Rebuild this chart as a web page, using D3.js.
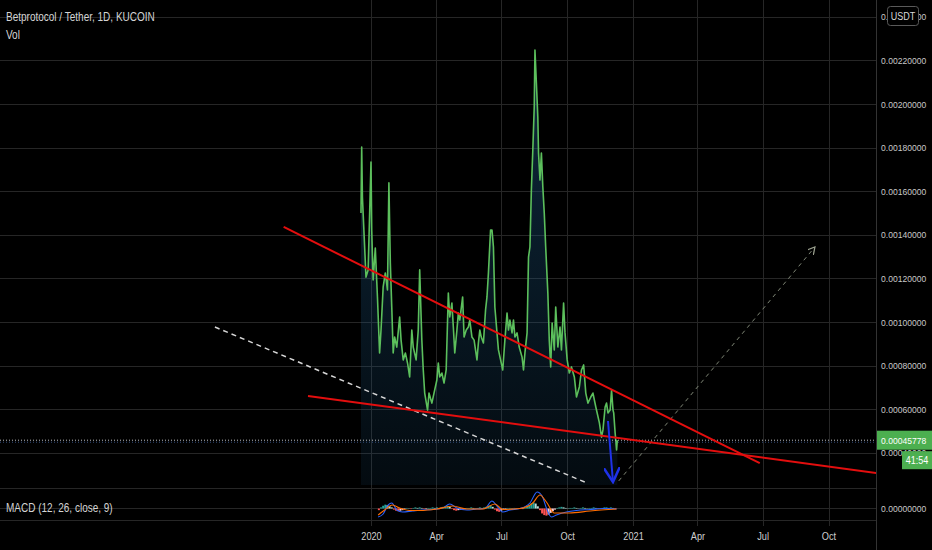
<!DOCTYPE html>
<html><head><meta charset="utf-8">
<script src="https://cdn.jsdelivr.net/npm/d3@7/dist/d3.min.js"></script>
<style>html,body{margin:0;padding:0;background:#000;overflow:hidden}svg{display:block}</style>
</head><body><svg id="c" width="932" height="550"></svg>
<script>
// ---------- DATA ----------
const title = "Betprotocol / Tether, 1D, KUCOIN";
const volLabel = "Vol";
const macdLabel = "MACD (12, 26, close, 9)";
const currency = "USDT";
const lastPrice = 0.00045778;
const countdown = "41:54";

const dates = ["2019-12-18","2019-12-19","2019-12-20","2019-12-25","2019-12-28","2020-01-01","2020-01-02","2020-01-04","2020-01-07","2020-01-10",
"2020-01-13","2020-01-15","2020-01-18","2020-01-21","2020-01-24","2020-01-26","2020-01-28","2020-01-30","2020-02-01","2020-02-03",
"2020-02-06","2020-02-10","2020-02-12","2020-02-15","2020-02-18","2020-02-21","2020-02-24","2020-02-27","2020-02-29","2020-03-04",
"2020-03-07","2020-03-09","2020-03-12","2020-03-14","2020-03-16","2020-03-20","2020-03-22","2020-03-26","2020-03-29","2020-04-02",
"2020-04-04","2020-04-06","2020-04-09","2020-04-12","2020-04-15","2020-04-18","2020-04-20","2020-04-23","2020-04-25","2020-04-27",
"2020-04-30","2020-05-02","2020-05-04","2020-05-08","2020-05-10","2020-05-13","2020-05-16","2020-05-18","2020-05-21","2020-05-24",
"2020-05-28","2020-05-30","2020-06-01","2020-06-03","2020-06-06","2020-06-09","2020-06-11","2020-06-13","2020-06-16","2020-06-18",
"2020-06-20","2020-06-22","2020-06-25","2020-06-27","2020-06-30","2020-07-03","2020-07-06","2020-07-09","2020-07-11","2020-07-13",
"2020-07-16","2020-07-18","2020-07-20","2020-07-23","2020-07-26","2020-07-30","2020-08-01","2020-08-03","2020-08-06","2020-08-08",
"2020-08-10","2020-08-12","2020-08-14","2020-08-16","2020-08-17","2020-08-19","2020-08-21","2020-08-22","2020-08-24","2020-08-26",
"2020-08-28","2020-08-30","2020-09-01","2020-09-04","2020-09-06","2020-09-08","2020-09-10","2020-09-13","2020-09-15","2020-09-18",
"2020-09-21","2020-09-23","2020-09-26","2020-09-28","2020-10-01","2020-10-04","2020-10-07","2020-10-11","2020-10-14","2020-10-18",
"2020-10-21","2020-10-24","2020-10-27","2020-10-30","2020-11-03","2020-11-06","2020-11-10","2020-11-15","2020-11-18","2020-11-20",
"2020-11-23","2020-11-25","2020-11-27","2020-11-30","2020-12-02","2020-12-04","2020-12-05","2020-12-07","2020-12-09","2020-12-10"];

const closes = [0.001500,0.001803,0.001573,0.001206,0.001239,0.001734,0.001422,0.001193,0.001339,0.001115,
0.000858,0.000963,0.001161,0.001225,0.001147,0.001638,0.001271,0.001069,0.000858,0.000931,
0.000885,0.001023,0.000917,0.000826,0.000858,0.000812,0.000748,0.000963,0.000885,0.000826,
0.000963,0.001239,0.000917,0.000780,0.000674,0.000596,0.000674,0.000628,0.000674,0.000734,
0.000812,0.000748,0.000766,0.000720,0.000780,0.001133,0.001023,0.001087,0.000977,0.000858,
0.000963,0.001041,0.001009,0.001115,0.000931,0.000963,0.000977,0.001009,0.000931,0.000917,
0.000826,0.000904,0.000963,0.000931,0.000904,0.001055,0.001115,0.001225,0.001422,0.001422,
0.001344,0.001069,0.000950,0.000872,0.000826,0.000780,0.000917,0.001041,0.000963,0.001009,
0.000950,0.001009,0.000931,0.000950,0.000885,0.000839,0.000780,0.000858,0.000950,0.001298,
0.001344,0.001606,0.001789,0.001986,0.002248,0.002096,0.001940,0.001775,0.001651,0.001775,
0.001619,0.001500,0.001344,0.001133,0.000917,0.000794,0.000995,0.000872,0.001069,0.000885,
0.000977,0.000872,0.001087,0.000950,0.000826,0.000766,0.000794,0.000748,0.000656,0.000702,
0.000780,0.000803,0.000674,0.000628,0.000656,0.000674,0.000610,0.000537,0.000472,0.000505,
0.000610,0.000628,0.000583,0.000596,0.000688,0.000596,0.000583,0.000491,0.000413,0.000458];

const macdDates = ["2020-01-11","2020-01-18","2020-01-25","2020-01-30","2020-02-06","2020-02-14","2020-02-28","2020-03-13","2020-03-27","2020-04-10",
"2020-04-20","2020-04-30","2020-05-14","2020-05-28","2020-06-08","2020-06-18","2020-06-25","2020-07-03","2020-07-13","2020-07-27",
"2020-08-10","2020-08-20","2020-08-27","2020-09-02","2020-09-09","2020-09-16","2020-09-30","2020-10-14","2020-11-02","2020-11-20","2020-12-09"];
const macdValues = [-0.000155,-0.000100,0.000064,0.000100,-0.000027,-0.000064,-0.000045,-0.000027,-0.000018,0.000009,
0.000082,0.000009,-0.000027,-0.000009,0.000000,0.000136,0.000045,-0.000064,-0.000027,0.000000,
0.000100,0.000300,0.000227,0.000009,-0.000155,-0.000118,-0.000064,-0.000036,-0.000018,0.000000,-0.000009];

const signalDates = ["2020-01-11","2020-01-20","2020-01-31","2020-02-10","2020-02-24","2020-03-09","2020-04-02","2020-04-24","2020-05-14","2020-06-05",
"2020-06-22","2020-07-03","2020-07-27","2020-08-14","2020-08-24","2020-09-02","2020-09-13","2020-10-04","2020-11-02","2020-12-09"];
const signalValues = [-0.000118,-0.000027,0.000064,0.000009,-0.000036,-0.000036,-0.000009,0.000045,-0.000009,-0.000009,
0.000082,-0.000018,0.000000,0.000100,0.000245,0.000118,-0.000082,-0.000082,-0.000045,-0.000009];

// histogram: one bar every 3 days from histStart
const histStart = "2020-01-12";
const histValues = [-3e-5,2e-5,5e-5,7e-5,6e-5,4e-5,2e-5,-2e-5,-4e-5,-5e-5,-4e-5,-3e-5,-1e-5,1e-5,0.5e-5,-1e-5,1e-5,2e-5,1e-5,2e-5,
1e-5,-1e-5,-1e-5,1e-5,1e-5,2e-5,1e-5,2e-5,1e-5,2e-5,3e-5,4e-5,5e-5,3e-5,-1e-5,-3e-5,-4e-5,-3e-5,-2e-5,-2e-5,
-1e-5,1e-5,1e-5,2e-5,1e-5,0.5e-5,1e-5,2e-5,1e-5,2e-5,3e-5,5e-5,6e-5,3e-5,-2e-5,-5e-5,-6e-5,-4e-5,-2e-5,-1e-5,
1e-5,1e-5,0.5e-5,1e-5,0.5e-5,-0.5e-5,-1e-5,-1e-5,1e-5,3e-5,6e-5,9e-5,11e-5,9e-5,4e-5,-3e-5,-9e-5,-12e-5,-13e-5,-11e-5,
-8e-5,-5e-5,-2e-5,1e-5,2e-5,3e-5,2e-5,1e-5,0.5e-5,1e-5,1e-5,2e-5,1e-5,0.5e-5,1e-5,2e-5,1e-5,0.5e-5,1e-5,1e-5,
2e-5,1e-5,0.5e-5,-0.5e-5,1e-5,2e-5,2e-5,1e-5,2e-5,1e-5,-1e-5];

const priceTicks = [0.0004,0.0006,0.0008,0.0010,0.0012,0.0014,0.0016,0.0018,0.0020,0.0022,0.0024];
const timeTicks = ["2020-01-01","2020-04-01","2020-07-01","2020-10-01","2021-01-01","2021-04-01","2021-07-01","2021-10-01"];
const timeTickLabels = ["2020","Apr","Jul","Oct","2021","Apr","Jul","Oct"];

// drawn annotations (date, price)
const upperTrend = [["2019-09-01",0.001436],["2021-06-27",0.000353]];
const lowerTrend = [["2019-10-05",0.000661],["2021-12-31",0.000296]];
const whiteDashed = [["2019-05-28",0.000977],["2020-10-29",0.000261]];
const projection = [["2020-12-12",0.000271],["2021-09-12",0.001344]];
const blueArrow = [["2020-11-27",0.000546],["2020-12-04",0.000266]];

// ---------- LAYOUT ----------
const W = 932, H = 550, axisX = 876, paneBottom = 485, macdBottom = 526;
const FONT = "'Liberation Sans',Arial,sans-serif";
const parse = d3.utcParse("%Y-%m-%d");

function condense(factor) {
  return sel => sel.each(function() {
    const w = this.getComputedTextLength();
    if (w > 0) d3.select(this).attr("textLength", w * factor).attr("lengthAdjust", "spacingAndGlyphs");
  });
}

const x = d3.scaleUtc().domain([parse("2020-01-01"), parse("2021-10-01")]).range([371, 828.5]);
const y = d3.scaleLinear().domain([0, 0.0024]).range([540, 16.8]);
const ym = d3.scaleLinear().domain([0, 0.0003]).range([508.5, 492]);

const svg = d3.select("#c");
svg.append("rect").attr("width", W).attr("height", H).attr("fill", "#000");

const defs = svg.append("defs");
defs.append("clipPath").attr("id","mainClip").append("rect").attr("x",0).attr("y",0).attr("width",axisX).attr("height",paneBottom);
defs.append("clipPath").attr("id","macdClip").append("rect").attr("x",0).attr("y",paneBottom).attr("width",axisX).attr("height",macdBottom-paneBottom);
const grad = defs.append("linearGradient").attr("id","areaGrad").attr("gradientUnits","userSpaceOnUse")
  .attr("x1",0).attr("y1",50).attr("x2",0).attr("y2",paneBottom);
grad.append("stop").attr("offset","0").attr("stop-color","#1e5a86").attr("stop-opacity",0.45);
grad.append("stop").attr("offset","1").attr("stop-color","#1e5a86").attr("stop-opacity",0.12);
function arrowMarker(id, color, size) {
  defs.append("marker").attr("id", id).attr("viewBox","0 0 10 10").attr("refX",9).attr("refY",5)
    .attr("markerWidth",size).attr("markerHeight",size).attr("markerUnits","userSpaceOnUse").attr("orient","auto")
    .append("path").attr("d","M0,0 L9,5 L0,10").attr("fill","none").attr("stroke",color).attr("stroke-width",1.6);
}
arrowMarker("blueHead", "#1f32e8", 16);
arrowMarker("greyHead", "#9aa08e", 8);

// grid
const grid = svg.append("g").attr("stroke","#262626").attr("stroke-width",1);
priceTicks.forEach(v => grid.append("line").attr("x1",0).attr("x2",axisX).attr("y1",Math.round(y(v))+0.5).attr("y2",Math.round(y(v))+0.5));
timeTicks.forEach(t => grid.append("line").attr("y1",0).attr("y2",macdBottom).attr("x1",Math.round(x(parse(t)))+0.5).attr("x2",Math.round(x(parse(t)))+0.5));
[488.5, 508.5, 520.5].forEach(v => grid.append("line").attr("x1",0).attr("x2",axisX).attr("y1",v).attr("y2",v));
svg.append("line").attr("x1",axisX+0.5).attr("x2",axisX+0.5).attr("y1",0).attr("y2",H).attr("stroke","#333");

// price area + line
const series = dates.map((d,i) => ({d: parse(d), v: closes[i]}));
const main = svg.append("g").attr("clip-path","url(#mainClip)");
main.append("path").datum(series)
  .attr("d", d3.area().x(p => x(p.d)).y0(paneBottom).y1(p => y(p.v)))
  .attr("fill","url(#areaGrad)");
main.append("path").datum(series)
  .attr("d", d3.line().x(p => x(p.d)).y(p => y(p.v)))
  .attr("fill","none").attr("stroke","#5cbf5c").attr("stroke-width",1.6).attr("stroke-linejoin","round");

// current price lines
main.append("line").attr("x1",0).attr("x2",axisX).attr("y1",y(lastPrice)).attr("y2",y(lastPrice))
  .attr("stroke","#bdbdbd").attr("stroke-width",1).attr("stroke-dasharray","1,2");
main.append("line").attr("x1",0).attr("x2",axisX).attr("y1",y(lastPrice)+2).attr("y2",y(lastPrice)+2)
  .attr("stroke","#4a6fb0").attr("stroke-width",1).attr("stroke-dasharray","1,2").attr("opacity",0.7);

// annotations
const seg = pts => pts.map(p => [x(parse(p[0])), y(p[1])]);
const lineGen = d3.line();
main.append("path").attr("d", lineGen(seg(whiteDashed))).attr("stroke","#d6d6d6").attr("stroke-width",1.5)
  .attr("stroke-dasharray","5,4").attr("fill","none");
main.append("path").attr("d", lineGen(seg(projection))).attr("stroke","#7f8676").attr("stroke-width",1)
  .attr("stroke-dasharray","4,4").attr("fill","none").attr("marker-end","url(#greyHead)");
main.append("path").attr("d", lineGen(seg(upperTrend))).attr("stroke","#e30e0e").attr("stroke-width",2).attr("fill","none");
main.append("path").attr("d", lineGen(seg(lowerTrend))).attr("stroke","#e30e0e").attr("stroke-width",2).attr("fill","none");
main.append("path").attr("d", lineGen(seg(blueArrow))).attr("stroke","#1f32e8").attr("stroke-width",2)
  .attr("fill","none").attr("marker-end","url(#blueHead)");

// MACD pane
const mg = svg.append("g").attr("clip-path","url(#macdClip)");
const hist = histValues.map((v,i) => ({d: d3.utcDay.offset(parse(histStart), 3*i), v, prev: i ? histValues[i-1] : 0}));
mg.selectAll("rect.h").data(hist).enter().append("rect")
  .attr("x", h => x(h.d) - 1).attr("width", 2)
  .attr("y", h => Math.min(ym(h.v), ym(0))).attr("height", h => Math.abs(ym(h.v) - ym(0)))
  .attr("fill", h => h.v >= 0 ? (h.v >= h.prev ? "#26a69a" : "#b2dfdb") : (h.v < h.prev ? "#ff5252" : "#ffcdd2"));
const mLine = d3.line().x(p => x(p.d)).y(p => ym(p.v)).curve(d3.curveMonotoneX);
mg.append("path").datum(macdDates.map((d,i)=>({d:parse(d), v:macdValues[i]})))
  .attr("d", mLine).attr("fill","none").attr("stroke","#2962ff").attr("stroke-width",1.1);
mg.append("path").datum(signalDates.map((d,i)=>({d:parse(d), v:signalValues[i]})))
  .attr("d", mLine).attr("fill","none").attr("stroke","#ff6d00").attr("stroke-width",1.1);

// right price axis
const AXF = "9.5px";
const ay = svg.append("g").attr("transform",`translate(${axisX},0)`)
  .call(d3.axisRight(y).tickValues(priceTicks).tickFormat(d3.format(".8f")).tickSize(0).tickPadding(5));
ay.select(".domain").remove();
ay.selectAll("text").attr("fill","#c9c9c9").style("font-family",FONT).style("font-size",AXF).call(condense(0.9));
const am = svg.append("g").attr("transform",`translate(${axisX},0)`)
  .call(d3.axisRight(ym).tickValues([0]).tickFormat(d3.format(".8f")).tickSize(0).tickPadding(5));
am.select(".domain").remove();
am.selectAll("text").attr("fill","#c9c9c9").style("font-family",FONT).style("font-size",AXF).call(condense(0.9));

// bottom time axis
const ax = svg.append("g").attr("transform",`translate(0,${macdBottom})`)
  .call(d3.axisBottom(x).tickValues(timeTicks.map(parse)).tickFormat((d,i) => timeTickLabels[i]).tickSize(0).tickPadding(6));
ax.select(".domain").remove();
ax.selectAll("text").attr("fill","#cfcfcf").style("font-family",FONT).style("font-size","11.5px").call(condense(0.8));

// last price label + countdown
const ly = y(lastPrice);
svg.append("rect").attr("x",axisX+1).attr("y",ly-9.5).attr("width",W-axisX-1).attr("height",19).attr("fill","#4caf50");
svg.append("text").attr("x",axisX+5).attr("y",ly).attr("dy","0.35em").attr("fill","#fff")
  .style("font-family",FONT).style("font-size",AXF).text(d3.format(".8f")(lastPrice)).call(condense(0.9));
svg.append("rect").attr("x",902).attr("y",ly+11).attr("width",W-902).attr("height",18).attr("fill","#4caf50");
svg.append("text").attr("x",917).attr("y",ly+20).attr("dy","0.35em").attr("text-anchor","middle").attr("fill","#fff")
  .style("font-family",FONT).style("font-size","10px").text(countdown).call(condense(0.9));

// currency badge
svg.append("rect").attr("x",887.5).attr("y",6.5).attr("width",31).attr("height",19).attr("rx",3)
  .attr("fill","#000").attr("stroke","#5a5a5a");
svg.append("text").attr("x",903).attr("y",16).attr("dy","0.35em").attr("text-anchor","middle").attr("fill","#d8d8d8")
  .style("font-family",FONT).style("font-size","10px").text(currency).call(condense(0.9));

// titles
const tg = svg.append("g").style("font-family",FONT).attr("fill","#d4d4d4");
tg.append("text").attr("x",6).attr("y",17).attr("dy","0.35em").style("font-size","12.5px").text(title).call(condense(0.8));
tg.append("text").attr("x",6).attr("y",35).attr("dy","0.35em").style("font-size","12.5px").text(volLabel).call(condense(0.8));
tg.append("text").attr("x",6).attr("y",508).attr("dy","0.35em").style("font-size","12.5px").text(macdLabel).call(condense(0.8));
</script></body></html>
